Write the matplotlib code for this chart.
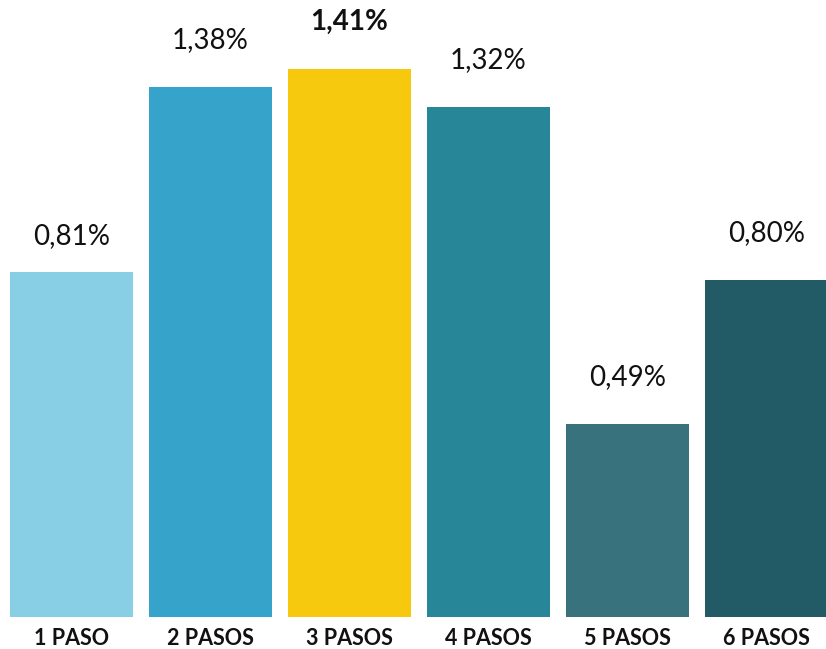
import matplotlib.pyplot as plt

# Data
categories = ["1 PASO", "2 PASOS", "3 PASOS", "4 PASOS", "5 PASOS", "6 PASOS"]
labels = ["0,81%", "1,38%", "1,41%", "1,32%", "0,49%", "0,80%"]
# bar heights as drawn in the source (it is not perfectly to scale with its labels)
heights = [0.888, 1.364, 1.41, 1.312, 0.497, 0.867]
colors = ["#88CFE6", "#35A3CA", "#F7C90E", "#288699", "#38737D", "#225B66"]
highlight = 2

plt.rcParams["font.family"] = ["Lato", "DejaVu Sans"]

fig = plt.figure(figsize=(8.26, 6.49), dpi=100)
ax = fig.add_axes([0, 32 / 649, 1, 617 / 649])

x = range(len(categories))
bars = ax.bar(x, heights, width=0.885, color=colors)

for i, (b, lab) in enumerate(zip(bars, labels)):
    ax.annotate(
        lab,
        (b.get_x() + b.get_width() / 2, b.get_height()),
        xytext=(0, 26 if i == 0 else 34),
        textcoords="offset points",
        ha="center",
        va="center",
        fontsize=20,
        color="#111111",
        fontweight="bold" if i == highlight else "normal",
    )

ax.set_xlim(-0.514, 5.428)
ax.set_ylim(0, 617 / 388.7)
ax.set_xticks(list(x))
ax.set_xticklabels(categories, fontsize=15.5, fontweight="bold", color="#111111")
ax.tick_params(axis="x", length=0, pad=8)
ax.set_yticks([])
for s in ax.spines.values():
    s.set_visible(False)

plt.savefig("out.png", dpi=100)
